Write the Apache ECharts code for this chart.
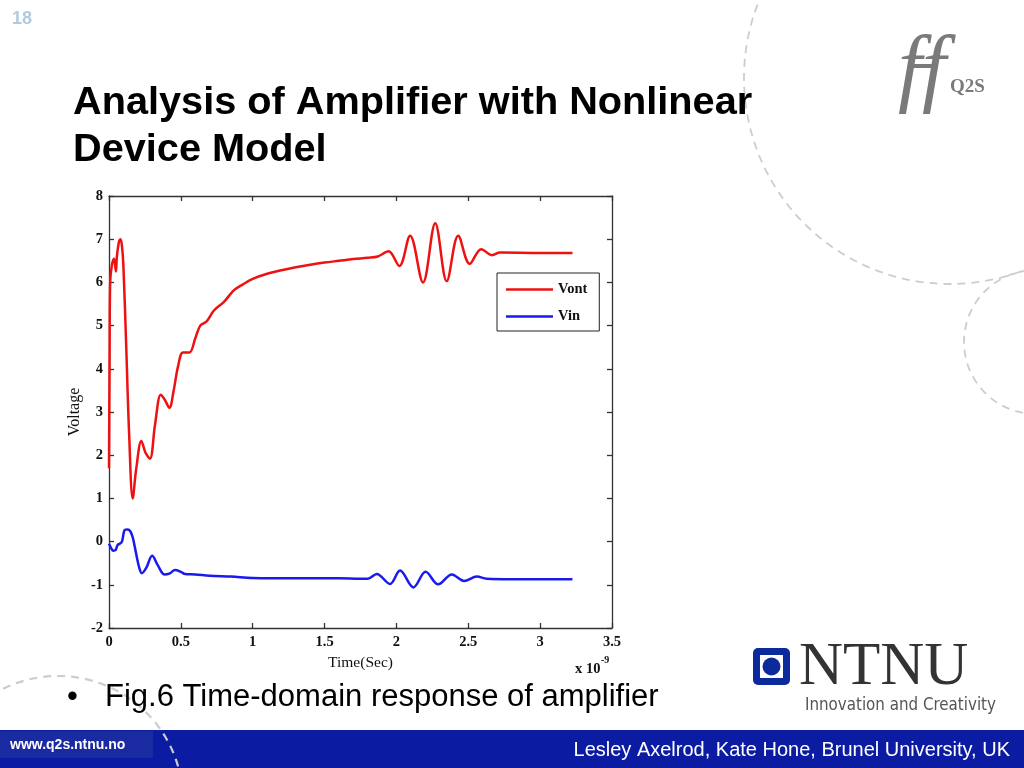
<!DOCTYPE html>
<html>
<head>
<meta charset="utf-8">
<script src="https://cdn.jsdelivr.net/npm/echarts@6/dist/echarts.min.js"></script>
<style>
html,body{margin:0;padding:0;background:#fff;}
#c{width:1024px;height:768px;}
</style>
</head>
<body>
<div id="c"></div>
<script>
// Data (time in units of 1e-9 s, voltage in V)
var voutT = [0, 0.004, 0.008, 0.02, 0.035, 0.048, 0.055, 0.07, 0.08, 0.09, 0.1, 0.12, 0.14, 0.165, 0.19, 0.225, 0.255, 0.285, 0.32, 0.36, 0.385, 0.42, 0.45, 0.48, 0.515, 0.56, 0.6, 0.635, 0.68, 0.73, 0.8, 0.87, 0.93, 1.0, 1.1, 1.2, 1.3, 1.4, 1.5, 1.6, 1.7, 1.8, 1.87, 1.945, 2.02, 2.095, 2.185, 2.27, 2.35, 2.43, 2.51, 2.59, 2.665, 2.72, 3.0, 3.225];
var voutV = [1.7, 4.2, 6.0, 6.4, 6.55, 6.25, 6.6, 6.95, 7.0, 6.85, 6.4, 4.5, 2.5, 1.0, 1.7, 2.33, 2.05, 1.92, 2.7, 3.4, 3.3, 3.1, 3.5, 4.05, 4.38, 4.38, 4.7, 5.0, 5.1, 5.35, 5.55, 5.82, 5.95, 6.08, 6.2, 6.28, 6.35, 6.41, 6.46, 6.5, 6.54, 6.57, 6.6, 6.72, 6.38, 7.08, 6.0, 7.37, 6.03, 7.08, 6.43, 6.77, 6.63, 6.69, 6.68, 6.68];
var vinT = [0, 0.015, 0.03, 0.045, 0.06, 0.075, 0.09, 0.11, 0.13, 0.148, 0.165, 0.19, 0.21, 0.228, 0.26, 0.3, 0.34, 0.385, 0.42, 0.46, 0.5, 0.53, 0.6, 0.7, 0.85, 1.0, 1.3, 1.6, 1.75, 1.8, 1.863, 1.955, 2.025, 2.118, 2.203, 2.29, 2.385, 2.47, 2.56, 2.627, 2.8, 3.225];
var vinV = [-0.05, -0.15, -0.21, -0.2, -0.08, -0.05, 0.0, 0.27, 0.28, 0.24, 0.1, -0.3, -0.6, -0.73, -0.6, -0.33, -0.55, -0.76, -0.74, -0.66, -0.7, -0.75, -0.76, -0.79, -0.81, -0.84, -0.85, -0.85, -0.86, -0.86, -0.75, -0.98, -0.67, -1.06, -0.70, -0.99, -0.76, -0.91, -0.81, -0.86, -0.87, -0.87];
var seriesNames = ['Vont', 'Vin'];
var xRange = [0, 3.5, 0.5];
var yRange = [-2, 8, 1];

function pairs(t, v) { return t.map(function (x, i) { return [x, v[i]]; }); }

var chart = echarts.init(document.getElementById('c'), null, {renderer: 'canvas'});
var serif = '"Liberation Serif", "Times New Roman", serif';
var sans = '"Liberation Sans", Arial, sans-serif';
var axisCol = '#333';

function xAx(pos, labels) {
  return {
    type: 'value', position: pos, min: xRange[0], max: xRange[1], interval: xRange[2],
    axisLine: {show: true, onZero: false, lineStyle: {color: axisCol, width: 1.3}},
    axisTick: {show: true, inside: true, length: 5, lineStyle: {color: axisCol, width: 1.3}},
    axisLabel: {show: labels, color: '#111', fontFamily: serif, fontWeight: 'bold', fontSize: 14.5, margin: 7},
    splitLine: {show: false}
  };
}
function yAx(pos, labels) {
  return {
    type: 'value', position: pos, min: yRange[0], max: yRange[1], interval: yRange[2],
    axisLine: {show: true, onZero: false, lineStyle: {color: axisCol, width: 1.3}},
    axisTick: {show: true, inside: true, length: 5, lineStyle: {color: axisCol, width: 1.3}},
    axisLabel: {show: labels, color: '#111', fontFamily: serif, fontWeight: 'bold', fontSize: 14.5, margin: 6},
    splitLine: {show: false}
  };
}
var xb = xAx('bottom', true);
xb.name = 'Time(Sec)'; xb.nameLocation = 'middle'; xb.nameGap = 26;
xb.nameTextStyle = {fontFamily: serif, fontSize: 15.5, color: '#111'};
var yl = yAx('left', true);
yl.name = 'Voltage'; yl.nameLocation = 'middle'; yl.nameGap = 26;
yl.nameTextStyle = {fontFamily: serif, fontSize: 16, color: '#111'};

var gray = '#cdcdcd';
var legendIcon = 'path://M0 0 H47 V2.6 H0 Z';
var option = {
  animation: false,
  backgroundColor: '#fff',
  grid: {left: 109, top: 196, right: 412, bottom: 140, containLabel: false, outerBoundsMode: 'none'},
  xAxis: [xb, xAx('top', false)],
  yAxis: [yl, yAx('right', false)],
  legend: {
    show: true, orient: 'vertical', left: 497, top: 273,
    data: seriesNames,
    icon: legendIcon,
    borderColor: '#222', borderWidth: 1, padding: [9, 12, 7, 9],
    itemWidth: 47, itemHeight: 14, itemGap: 12,
    backgroundColor: '#fff',
    textStyle: {fontFamily: serif, fontWeight: 'bold', fontSize: 14.5, color: '#111'}
  },
  series: [
    {name: seriesNames[0], type: 'line', data: pairs(voutT, voutV), symbol: 'none', smooth: 0.35,
     lineStyle: {color: '#ee1111', width: 2.5}, itemStyle: {color: '#ee1111'}, z: 3},
    {name: seriesNames[1], type: 'line', data: pairs(vinT, vinV), symbol: 'none', smooth: 0.35,
     lineStyle: {color: '#1a1aee', width: 2.5}, itemStyle: {color: '#1a1aee'}, z: 3}
  ],
  graphic: [
    // decorative dashed circles
    {type: 'circle', z: 1, shape: {cx: 950, cy: 78, r: 206}, style: {fill: 'none', stroke: gray, lineWidth: 1.8, lineDash: [8, 6]}, silent: true},
    {type: 'circle', z: 1, shape: {cx: 1036, cy: 342, r: 72}, style: {fill: 'none', stroke: gray, lineWidth: 1.8, lineDash: [8, 6]}, silent: true},
    // footer
    {type: 'rect', z: 2, shape: {x: 0, y: 730, width: 1024, height: 38}, style: {fill: '#0c1ca2'}, silent: true},
    {type: 'rect', z: 2, shape: {x: 0, y: 731, width: 153, height: 27}, style: {fill: '#1a2aa0'}, silent: true},
    {type: 'circle', z: 3, shape: {cx: 58, cy: 801, r: 125}, style: {fill: 'none', stroke: gray, lineWidth: 2.2, lineDash: [8, 6]}, silent: true},
    {type: 'text', z: 4, style: {text: 'www.q2s.ntnu.no', x: 10, y: 745, font: 'bold 14px ' + sans, fill: '#fff', verticalAlign: 'middle'}},
    {type: 'text', z: 4, style: {text: 'Lesley Axelrod, Kate Hone, Brunel University, UK', x: 1010, y: 750, font: '20px ' + sans, fill: '#fff', align: 'right', verticalAlign: 'middle'}},
    // slide number
    {type: 'text', z: 4, style: {text: '18', x: 12, y: 19, font: 'bold 18px ' + sans, fill: '#b0cbe0', verticalAlign: 'middle'}},
    // title
    {type: 'text', z: 4, style: {text: 'Analysis of Amplifier with Nonlinear', x: 73, y: 103, font: 'bold 39.7px ' + sans, fill: '#000', verticalAlign: 'middle'}},
    {type: 'text', z: 4, style: {text: 'Device Model', x: 73, y: 150, font: 'bold 39.7px ' + sans, fill: '#000', verticalAlign: 'middle'}},
    // bullet
    {type: 'text', z: 4, style: {text: '\u2022', x: 67, y: 697, font: '31px ' + sans, fill: '#000', verticalAlign: 'middle'}},
    {type: 'text', z: 4, style: {text: 'Fig.6 Time-domain response of amplifier', x: 105, y: 697, font: '31px ' + sans, fill: '#000', verticalAlign: 'middle'}},
    // x 10^-9
    {type: 'text', z: 4, style: {text: 'x 10', x: 575, y: 669, font: 'bold 14.5px ' + serif, fill: '#111', verticalAlign: 'middle'}},
    {type: 'text', z: 4, style: {text: '-9', x: 601, y: 660, font: 'bold 10px ' + serif, fill: '#111', verticalAlign: 'middle'}},
    // Q2S logo
    {type: 'text', z: 4, style: {text: 'ff', x: 898, y: 72, font: 'italic 86px ' + serif, fill: '#7a7a7a', verticalAlign: 'middle'}},
    {type: 'rect', z: 4, shape: {x: 908, y: 64, width: 30, height: 4}, style: {fill: '#7a7a7a'}},
    {type: 'text', z: 4, style: {text: 'Q2S', x: 950, y: 87, font: 'bold 19px ' + serif, fill: '#7a7a7a', verticalAlign: 'middle'}},
    // NTNU logo
    {type: 'rect', z: 4, shape: {x: 753, y: 648, width: 37, height: 37, r: 5}, style: {fill: '#0b2a9b'}},
    {type: 'rect', z: 5, shape: {x: 760, y: 655, width: 23, height: 23}, style: {fill: '#fff'}},
    {type: 'circle', z: 6, shape: {cx: 771.5, cy: 666.5, r: 9}, style: {fill: '#0b2a9b'}},
    {type: 'text', z: 4, style: {text: 'NTNU', x: 799, y: 668, font: '61px ' + serif, fill: '#333', verticalAlign: 'middle'}},
    {type: 'text', z: 4, style: {text: 'Innovation and Creativity', x: 805, y: 706, font: '16.8px "DejaVu Sans Condensed", "DejaVu Sans", sans-serif', fill: '#555', verticalAlign: 'middle'}}
  ]
};
chart.setOption(option);
</script>
</body>
</html>
